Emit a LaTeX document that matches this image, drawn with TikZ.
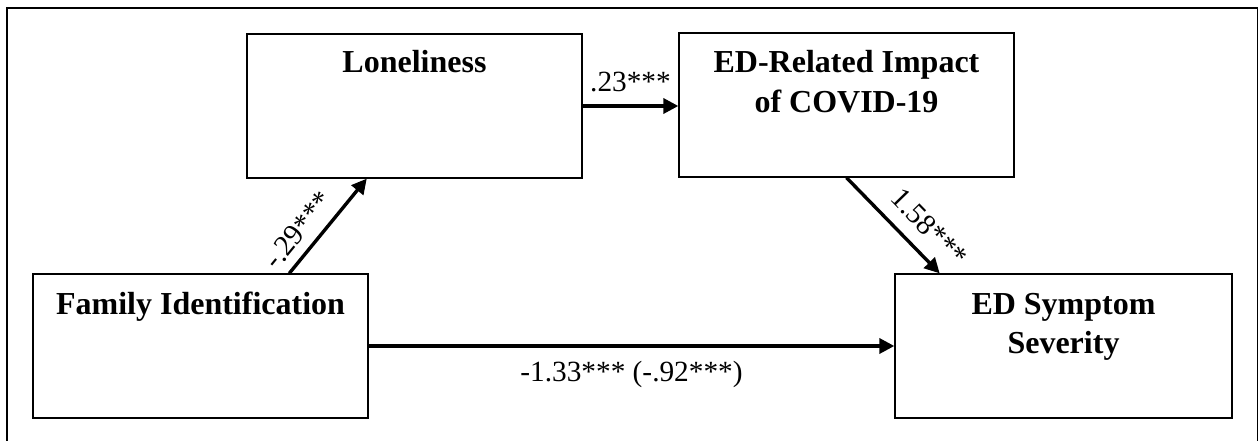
\documentclass[tikz,border=0pt]{standalone}
\usepackage{fontspec}
\setmainfont{Liberation Serif}
\usetikzlibrary{arrows.meta,calc}
\begin{document}
\begin{tikzpicture}[x=1pt,y=-1pt,
  box/.style={draw=black, line width=1.3pt, rectangle, inner sep=0pt, minimum height=144pt},
  btext/.style={font=\fontsize{32}{40}\selectfont\bfseries, anchor=base, inner sep=0pt},
  lab/.style={font=\fontsize{29.3}{35}\selectfont, inner sep=0pt},
  arr/.style={line width=3.4pt, -{Triangle[length=15pt,width=15pt]}}]
\useasboundingbox (0,0) rectangle (1260,441);
% outer frame (bottom edge lies outside the picture)
\draw[line width=1.6pt] (7,450) -- (7,8) -- (1257.5,8) -- (1257.5,450);
% boxes
\node[box, minimum width=335pt] (L) at (414.5,106) {};
\node[box, minimum width=335pt] (E) at (846.5,105) {};
\node[box, minimum width=335pt] (F) at (200.5,346) {};
\node[box, minimum width=337pt] (S) at (1063.5,346) {};
% texts
\node[btext] (Lt) at (414.5,73) {Loneliness};
\node[btext] (Et1) at (846.5,73) {ED-Related Impact};
\node[btext] (Et2) at (846.5,113) {of COVID-19};
\node[btext] (Ft) at (200.5,314) {Family Identification};
\node[btext] (St1) at (1063.5,314) {ED Symptom};
\node[btext] (St2) at (1063.5,353) {Severity};
% connectors
\draw[arr] (L.east) -- (L.east -| E.west) node[lab, midway, above=12pt] {.23***};
\draw[arr] ($(F.north west)!0.764!(F.north east)$) -- ($(L.south west)!0.358!(L.south east)$)
  node[lab, pos=0.32, sloped, above=9pt] {-.29***};
\draw[arr] (E.south) -- ($(S.north west)!0.134!(S.north east)$)
  node[lab, pos=0.7, sloped, above=13pt] {1.58***};
\draw[arr] (F.east) -- (S.west) node[lab, midway, below=13pt] {-1.33*** (-.92***)};
\end{tikzpicture}
\end{document}
